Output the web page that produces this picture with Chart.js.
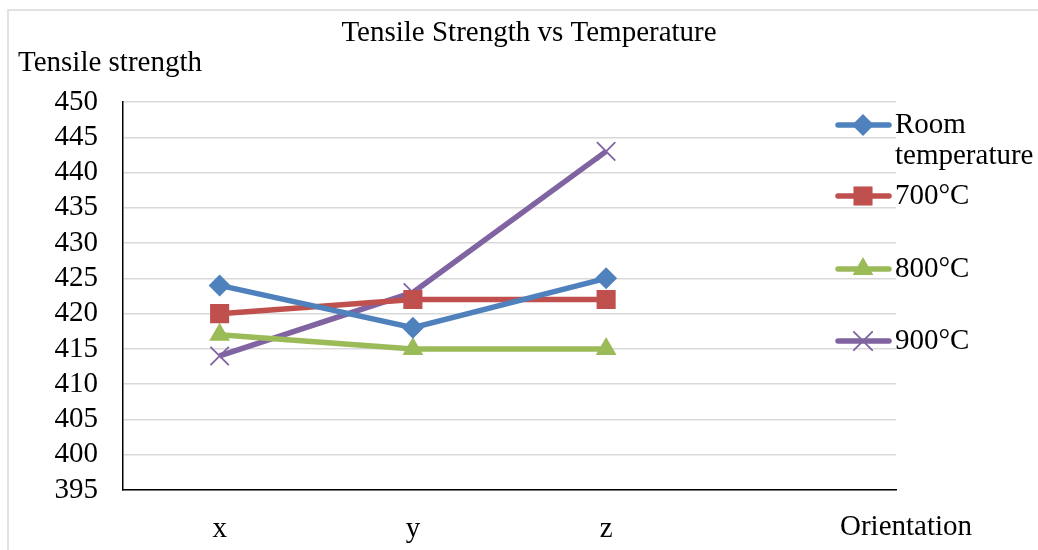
<!DOCTYPE html>
<html>
<head>
<meta charset="utf-8">
<script src="https://cdn.jsdelivr.net/npm/chart.js@4"></script>
<style>
  html, body { margin: 0; padding: 0; background: #fff; }
  #wrap { width: 1038px; height: 550px; position: relative; }
</style>
</head>
<body>
<div id="wrap"><canvas id="chart"></canvas></div>
<script>
const orientations = ['x', 'y', 'z', ''];
const roomTemp = [424, 418, 425];
const temp700 = [420, 422, 422];
const temp800 = [417, 415, 415];
const temp900 = [414, 423, 443];
const seriesLabels = [['Room', 'temperature'], ['700°C'], ['800°C'], ['900°C']];
const seriesColors = ['#4F81BD', '#C0504D', '#9BBB59', '#8064A2'];
const seriesMarkers = ['rectRot', 'rect', 'triangle', 'crossRot'];
const markerRadius = [11, 13.5, 12, 13];

const FONT = "'Liberation Serif', 'Times New Roman', serif";
const FONT_SIZE = 29;

function makeDataset(label, data, i) {
  const isCross = seriesMarkers[i] === 'crossRot';
  return {
    label: label.join(' '),
    data: data,
    borderColor: seriesColors[i],
    backgroundColor: seriesColors[i],
    borderWidth: 5.5,
    pointStyle: seriesMarkers[i],
    pointRadius: markerRadius[i],
    pointBorderWidth: isCross ? 1.8 : 0,
    pointBorderColor: seriesColors[i],
    pointBackgroundColor: seriesColors[i],
    tension: 0
  };
}

function drawMarker(ctx, ds, x, y) {
  ctx.fillStyle = ds.borderColor;
  ctx.strokeStyle = ds.borderColor;
  ctx.lineWidth = ds.pointBorderWidth || 1;
  Chart.helpers.drawPoint(ctx, {
    pointStyle: ds.pointStyle,
    radius: ds.pointRadius,
    rotation: 0,
    borderWidth: ds.pointBorderWidth
  }, x, y);
}

// frame, titles and legend
const decorations = {
  id: 'decorations',
  beforeDraw(chart) {
    const ctx = chart.ctx;
    ctx.save();
    ctx.fillStyle = '#fff';
    ctx.fillRect(0, 0, chart.width, chart.height);
    ctx.strokeStyle = '#d9d9d9';
    ctx.lineWidth = 1.5;
    ctx.beginPath();
    ctx.moveTo(8, chart.height);
    ctx.lineTo(8, 10);
    ctx.lineTo(chart.width, 10);
    ctx.stroke();
    ctx.restore();
  },
  afterDraw(chart) {
    const ctx = chart.ctx;
    ctx.save();
    ctx.fillStyle = '#000';
    ctx.textBaseline = 'middle';
    ctx.font = FONT_SIZE + 'px ' + FONT;

    ctx.textAlign = 'center';
    ctx.fillText('Tensile Strength vs Temperature', 529, 33);

    ctx.textAlign = 'left';
    ctx.fillText('Tensile strength', 18, 63);
    ctx.fillText('Orientation', 840, 527);

    // legend
    const rows = [125, 196, 269, 341];
    chart.data.datasets.forEach((ds, i) => {
      const y = rows[i];
      ctx.strokeStyle = ds.borderColor;
      ctx.lineWidth = 5.5;
      ctx.lineCap = 'round';
      ctx.beginPath();
      ctx.moveTo(838, y);
      ctx.lineTo(889, y);
      ctx.stroke();
      drawMarker(ctx, ds, 863, y);
      ctx.fillStyle = '#000';
      seriesLabels[i].forEach((t, k) => ctx.fillText(t, 895, y + k * 31));
    });
    ctx.restore();
  }
};

new Chart(document.getElementById('chart'), {
  type: 'line',
  data: {
    labels: orientations,
    datasets: [
      makeDataset(seriesLabels[0], roomTemp, 0),
      makeDataset(seriesLabels[1], temp700, 1),
      makeDataset(seriesLabels[2], temp800, 2),
      makeDataset(seriesLabels[3], temp900, 3)
    ]
  },
  options: {
    responsive: true,
    maintainAspectRatio: false,
    animation: false,
    layout: { padding: { left: 0, right: 142, top: 102, bottom: 0 } },
    plugins: {
      legend: { display: false },
      title: { display: false },
      tooltip: { enabled: false }
    },
    scales: {
      x: {
        offset: true,
        grid: { display: false, drawTicks: false },
        border: { color: '#000', width: 1.5 },
        ticks: {
          color: '#000',
          font: { family: FONT, size: FONT_SIZE },
          padding: 22,
          maxRotation: 0,
          autoSkip: false
        },
        afterFit(scale) { scale.height = 60; }
      },
      y: {
        min: 395,
        max: 450,
        grid: { color: '#d9d9d9', lineWidth: 1.5, drawTicks: false },
        border: { color: '#000', width: 1.5 },
        ticks: {
          stepSize: 5,
          autoSkip: false,
          color: '#000',
          font: { family: FONT, size: FONT_SIZE, lineHeight: 1 },
          padding: 25
        },
        afterFit(scale) { scale.width = 123; }
      }
    }
  },
  plugins: [decorations]
});
</script>
</body>
</html>
